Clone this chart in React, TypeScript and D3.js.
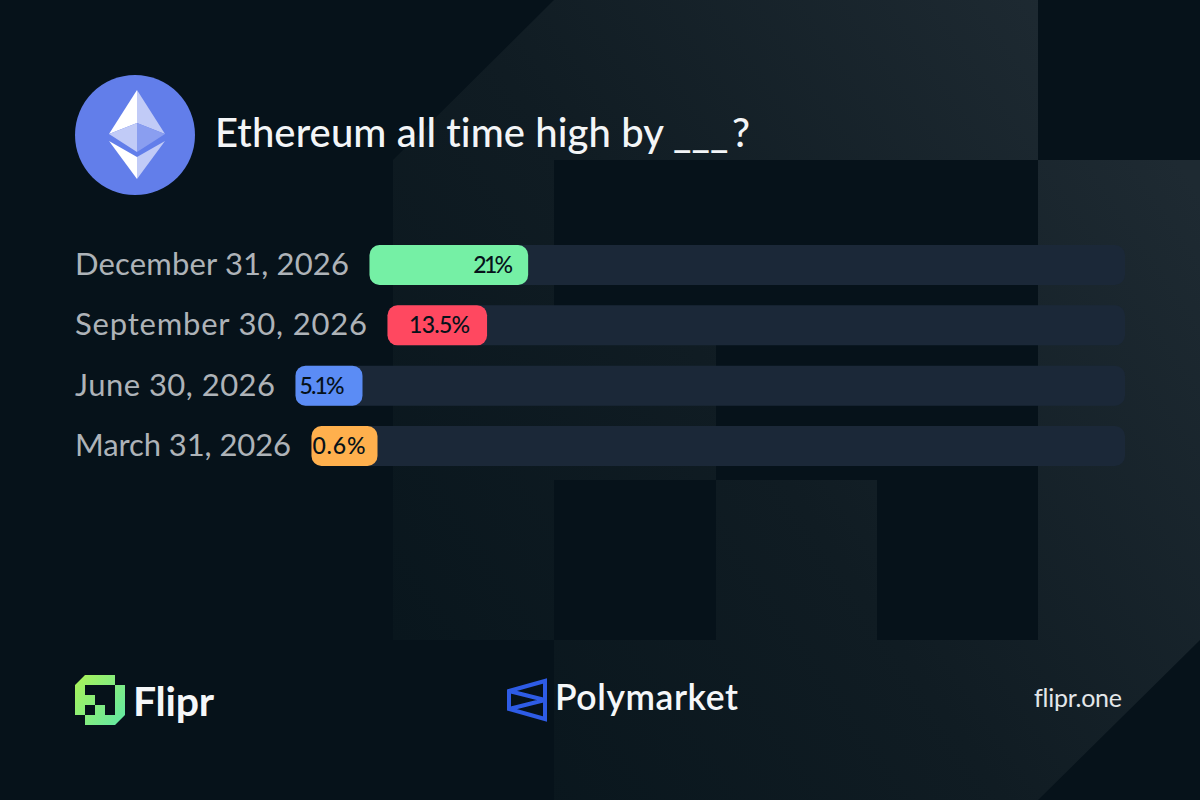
import React from "react";
import * as d3 from "d3";

const categories = ["December 31, 2026", "September 30, 2026", "June 30, 2026", "March 31, 2026"];
const probabilities = [21, 13.5, 5.1, 0.6];
const valueLabels = ["21%", "13.5%", "5.1%", "0.6%"];
const barColors = ["#75f0a5", "#ff4860", "#5b8cf5", "#ffb04d"];

// layout measurements (kept apart from the data)
const labelWidths = [274, 292, 200, 216];
const valueWidths = [40, 61, 45, 53];
const valueInsets = [15, 17, 18, 12];
const minFills = [66, 66, 67, 66];

const W = 1200;
const H = 800;
const FONT = "Lato, 'Open Sans', sans-serif";
const NO_LIGA: React.CSSProperties = { fontVariantLigatures: "none", fontKerning: "normal" };
const LABEL_X = 75;
const LABEL_GAP = 20.5;
const TRACK_END = 1125;
const BAR_H = 40;

const y = d3.scalePoint<string>().domain(categories).range([245, 426]);
const percent = d3.scaleLinear().domain([0, 100]);

// Big faint Flipr mark in the background
const C = [393, 554, 716, 877, 1038, 1200];
const R = [0, 160, 320, 480, 640, 800];
const bgPath = d3.path();
bgPath.moveTo(C[1], R[0]);
bgPath.lineTo(C[4], R[0]);
bgPath.lineTo(C[4], R[1]);
bgPath.lineTo(C[5], R[1]);
bgPath.lineTo(C[5], R[4]);
bgPath.lineTo(C[4], R[5]);
bgPath.lineTo(C[1], R[5]);
bgPath.lineTo(C[1], R[4]);
bgPath.lineTo(C[0], R[4]);
bgPath.lineTo(C[0], R[1]);
bgPath.closePath();
const rect = (p: d3.Path, x0: number, y0: number, x1: number, y1: number) => {
  p.moveTo(x0, y0);
  p.lineTo(x1, y0);
  p.lineTo(x1, y1);
  p.lineTo(x0, y1);
  p.closePath();
};
const bgHoles = d3.path();
bgHoles.moveTo(C[1], R[1]);
bgHoles.lineTo(C[4], R[1]);
bgHoles.lineTo(C[4], R[3]);
bgHoles.lineTo(C[2], R[3]);
bgHoles.lineTo(C[2], R[2]);
bgHoles.lineTo(C[1], R[2]);
bgHoles.closePath();
rect(bgHoles, C[1], R[3], C[2], R[4]);
rect(bgHoles, C[3], R[3], C[4], R[4]);

export default function App() {
  return (
    <svg
      width={W}
      height={H}
      viewBox={`0 0 ${W} ${H}`}
      style={{ position: "absolute", left: 0, top: 0, display: "block" }}
    >
      <defs>
        <linearGradient id="bgGrad" gradientUnits="userSpaceOnUse" x1={393} y1={640} x2={1150} y2={120}>
          <stop offset="0" stopColor="#09161d" />
          <stop offset="0.45" stopColor="#101c23" />
          <stop offset="1" stopColor="#1e2a32" />
        </linearGradient>
        <linearGradient id="fliprGrad" gradientUnits="userSpaceOnUse" x1={75} y1={680} x2={125} y2={720}>
          <stop offset="0" stopColor="#a8f25a" />
          <stop offset="1" stopColor="#62e8a2" />
        </linearGradient>
      </defs>

      <rect width={W} height={H} fill="#06121a" />
      <path d={bgPath.toString()} fill="url(#bgGrad)" />
      <path d={bgHoles.toString()} fill="#06121a" />

      {/* Ethereum icon */}
      <circle cx={135} cy={135} r={60} fill="#627eea" />
      <polygon points="137,90 109,134 137,123" fill="#ffffff" />
      <polygon points="137,90 165,134 137,123" fill="#c1cbf7" />
      <polygon points="109,134 137,123 137,152" fill="#c1cbf7" />
      <polygon points="165,134 137,123 137,152" fill="#8a9ef0" />
      <polygon points="109,141 137,157 137,179" fill="#ffffff" />
      <polygon points="165,141 137,157 137,179" fill="#c1cbf7" />

      <text y={147} fontFamily={FONT} fontSize={40} fontWeight={500} fill="#f3f5f7" style={NO_LIGA} xmlSpace="preserve">
        <tspan x={215} textLength={449} lengthAdjust="spacing">Ethereum all time high by</tspan>
        <tspan x={673}>___</tspan>
        <tspan x={732}>?</tspan>
      </text>

      {categories.map((c, i) => {
        const yy = y(c) as number;
        const start = LABEL_X + labelWidths[i] + LABEL_GAP;
        const s = percent.copy().range([0, TRACK_END - start]);
        const fillW = Math.max(s(probabilities[i]), minFills[i]);
        return (
          <g key={c}>
            <text x={LABEL_X} y={yy + 30} fontFamily={FONT} fontSize={31} fill="#aeb3b8"
              textLength={labelWidths[i]} lengthAdjust="spacing" style={NO_LIGA}>
              {c}
            </text>
            <rect x={start} y={yy} width={TRACK_END - start} height={BAR_H} rx={10} fill="#1b2838" />
            <rect x={start} y={yy} width={fillW} height={BAR_H} rx={10} fill={barColors[i]} />
            <text
              x={start + fillW - valueInsets[i] - valueWidths[i]}
              y={yy + 28}
              fontFamily={FONT}
              fontSize={23}
              fontWeight={500}
              fill="#06121a"
              textLength={valueWidths[i]}
              lengthAdjust="spacing"
            >
              {valueLabels[i]}
            </text>
          </g>
        );
      })}

      {/* Flipr logo */}
      <path
        fillRule="evenodd"
        fill="url(#fliprGrad)"
        d="M85,675 H115 V685 H125 V715 L115,725 H85 V715 H75 V685 Z
           M85,685 V695 H95 V705 H105 V715 H115 V685 Z
           M85,705 V715 H95 V705 Z"
      />
      <text x={133} y={716} fontFamily={FONT} fontSize={41} fontWeight={700} fill="#f5f7f9"
        textLength={81} lengthAdjust="spacing" style={NO_LIGA}>
        Flipr
      </text>

      {/* Polymarket logo */}
      <path
        d="M509,691 L545,681 V719 L509,709 Z M509,691 L545,700 L509,709"
        fill="none"
        stroke="#2e5ce6"
        strokeWidth={4}
      />
      <text x={555} y={710} fontFamily={FONT} fontSize={35.5} fontWeight={600} fill="#f5f7f9"
        textLength={183} lengthAdjust="spacing">
        Polymarket
      </text>

      <text x={1034} y={707} fontFamily={FONT} fontSize={25} fill="#e3e6e9"
        textLength={88} lengthAdjust="spacing" style={NO_LIGA}>
        flipr.one
      </text>
    </svg>
  );
}
